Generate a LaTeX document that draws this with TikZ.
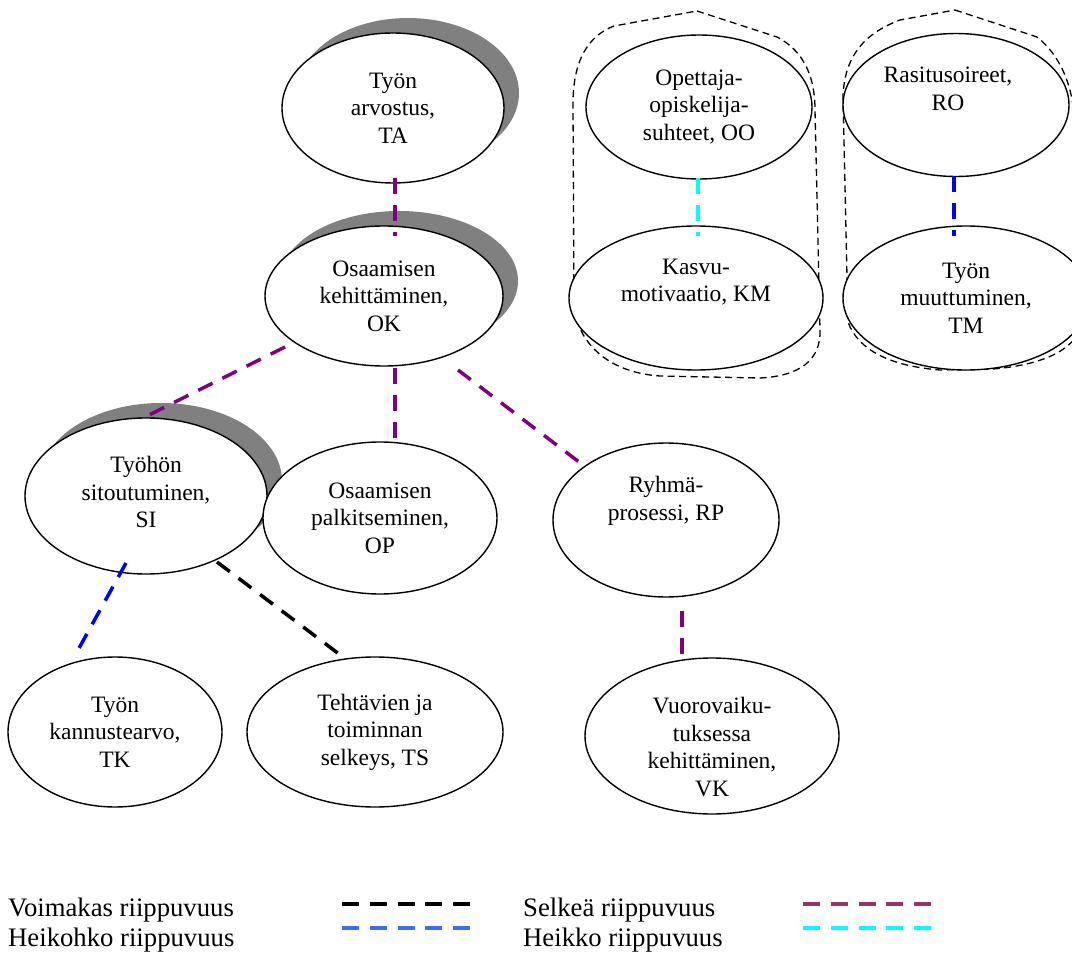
\documentclass[tikz,border=0pt]{standalone}
\usepackage{fontspec}
\setmainfont{Liberation Serif}
\usetikzlibrary{calc,shapes.geometric,shadows}

\definecolor{linkpurple}{HTML}{800080}
\definecolor{linkblue}{HTML}{0000FF}
\definecolor{linkcyan}{HTML}{00FFFF}
\definecolor{legpurple}{HTML}{993366}
\definecolor{legblue}{HTML}{3D6EF2}
\definecolor{shade}{HTML}{808080}

\tikzset{
  bubble/.style={ellipse, draw=black, fill=white, line width=1.4pt, inner sep=0pt},
  shadowed/.style={drop shadow={shadow xshift=15pt, shadow yshift=15pt, opacity=1, fill=shade}},
  txt/.style={align=center, font=\fontsize{23.5}{27.5}\selectfont, inner sep=0pt},
  link/.style={line width=3.5pt, dash pattern=on 16pt off 11pt},
  strong/.style={link, draw=black},
  clear/.style={link, draw=linkpurple},
  weakish/.style={link, draw=linkblue},
  weak/.style={link, draw=linkcyan},
  legline/.style={line width=3.8pt, dash pattern=on 17pt off 10.75pt},
  legtext/.style={anchor=west, font=\fontsize{26.7}{30}\selectfont, inner sep=0pt},
  group/.style={draw=black, line width=1.3pt, dash pattern=on 7pt off 4.5pt},
}

\begin{document}
\begin{tikzpicture}[x=1pt, y=-1pt]
\useasboundingbox (0,0) rectangle (1072,955);

% groups around the two independent pairs
\draw[group] (697,11) -- (777,37) .. controls (806,52) and (815,80) .. (815,110)
  -- (820,330) .. controls (821,360) and (800,376) .. (760,378)
  -- (660,376) .. controls (615,373) and (582,350) .. (574,310)
  -- (573,100) .. controls (574,60) and (588,36) .. (614,26) -- cycle;
\draw[group] (955,10) -- (1037,37) .. controls (1060,55) and (1072,85) .. (1074,115)
  -- (1080,330) .. controls (1070,352) and (1040,365) .. (993,369)
  -- (940,370) .. controls (890,366) and (858,350) .. (848,322)
  -- (843,95) .. controls (845,60) and (860,35) .. (900,20) -- cycle;

% concept ellipses
\node[bubble, shadowed, minimum width=222pt, minimum height=150pt,
  label={[txt, name=TAt]center:Työn\\arvostus,\\TA}] (TA) at (393,108) {};
\node[bubble, shadowed, minimum width=238pt, minimum height=140pt,
  label={[txt, name=OKt]center:Osaamisen\\kehittäminen,\\OK}] (OK) at (384,296) {};
\node[bubble, shadowed, minimum width=242pt, minimum height=156pt,
  label={[txt, name=SIt, yshift=4pt]center:Työhön\\sitoutuminen,\\SI}] (SI) at (146,496) {};
\node[bubble, minimum width=234pt, minimum height=152pt,
  label={[txt, name=OPt]center:Osaamisen\\palkitseminen,\\OP}] (OP) at (380,518) {};
\node[bubble, minimum width=226pt, minimum height=154pt,
  label={[txt, name=RPt, yshift=19pt]center:Ryhmä-\\prosessi, RP}] (RP) at (666,520) {};
\node[bubble, minimum width=214pt, minimum height=150pt,
  label={[txt, name=TKt]center:Työn\\kannustearvo,\\TK}] (TK) at (115,732) {};
\node[bubble, minimum width=256pt, minimum height=150pt,
  label={[txt, name=TSt]center:Tehtävien ja\\toiminnan\\selkeys, TS}] (TS) at (375,732) {};
\node[bubble, minimum width=254pt, minimum height=156pt,
  label={[txt, name=VKt, yshift=-11pt]center:Vuorovaiku-\\tuksessa\\kehittäminen,\\VK}] (VK) at (712,736) {};
\node[bubble, minimum width=226pt, minimum height=144pt,
  label={[txt, name=OOt]center:Opettaja-\\opiskelija-\\suhteet, OO}] (OO) at (699,107) {};
\node[bubble, minimum width=254pt, minimum height=144pt,
  label={[txt, name=KMt, yshift=16pt]center:Kasvu-\\motivaatio, KM}] (KM) at (696,298) {};
\node[bubble, minimum width=226pt, minimum height=143pt,
  label={[txt, name=ROt, yshift=16pt, xshift=-8pt]center:Rasitusoireet,\\RO}] (RO) at (956,105) {};
\node[bubble, minimum width=246pt, minimum height=144pt,
  label={[txt, name=TMt]center:Työn\\muuttuminen,\\TM}] (TM) at (966,298) {};

% dependencies
\draw[clear]   ($(TA)+(2,70)$)    -- ($(OK)+(11,-60)$);
\draw[clear]   ($(OK)+(-99,51)$)  -- ($(SI)+(-3,-78)$);
\draw[clear]   ($(OK)+(11,72)$)   -- ($(OP)+(15,-75)$);
\draw[clear]   ($(OK)+(74,74)$)   -- ($(RP)+(-83,-55)$);
\draw[weakish] ($(SI)+(-20,67)$)  -- ($(TK)+(-37,-82)$);
\draw[strong]  ($(SI)+(71,66)$)   -- ($(TS)+(-32,-75)$);
\draw[clear]   ($(RP)+(16,91)$)   -- ($(VK)+(-30,-81)$);
\draw[weak]    ($(OO)+(-1,71)$)   -- ($(KM)+(2,-62)$);
\draw[weakish] ($(RO)+(-2,71)$)   -- ($(TM)+(-12,-62)$);

% legend
\node[legtext] (l1) at (8,910) {Voimakas riippuvuus};
\node[legtext] (l2) at (8,940) {Heikohko riippuvuus};
\node[legtext] (l3) at (523,910) {Selkeä riippuvuus};
\node[legtext] (l4) at (523,940) {Heikko riippuvuus};
\draw[legline, black]     (342,904) -- (470,904);
\draw[legline, legblue]   (342,928) -- (470,928);
\draw[legline, legpurple] (803,904) -- (931,904);
\draw[legline, linkcyan]  (803,928) -- (931,928);
\end{tikzpicture}
\end{document}
